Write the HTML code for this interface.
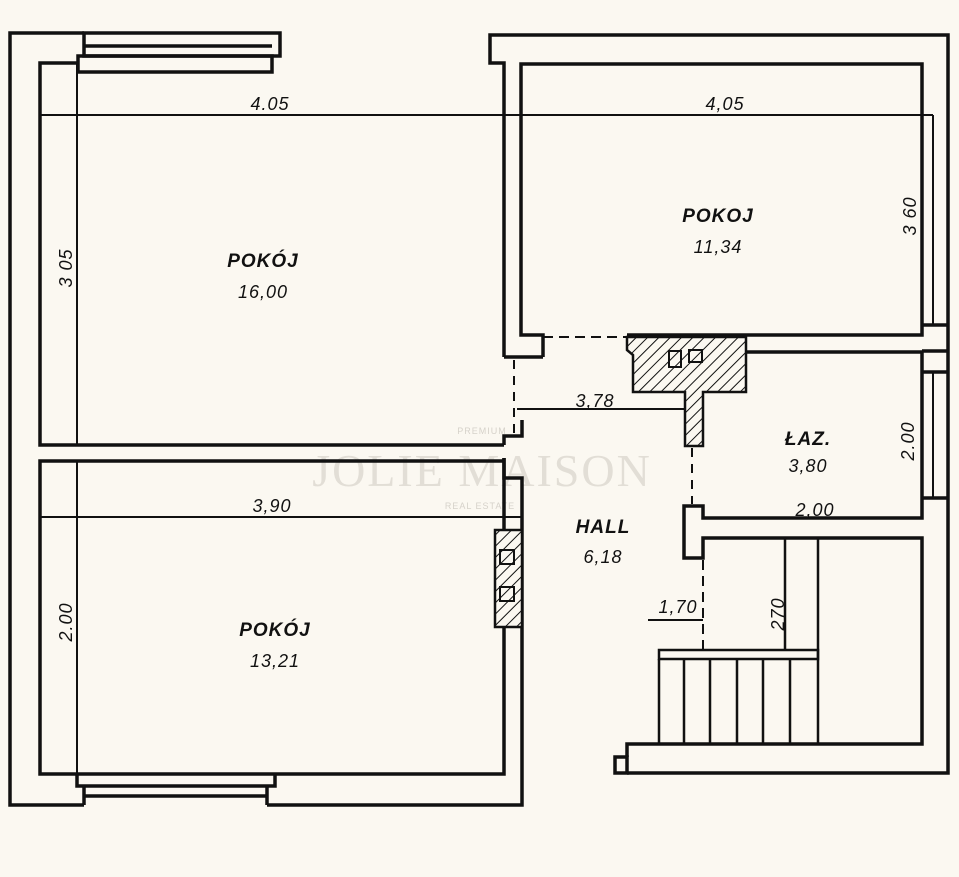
<!DOCTYPE html>
<html><head><meta charset="utf-8"><style>
html,body{margin:0;padding:0;background:#fbf8f1;}
svg{display:block}
.t{font-family:"Liberation Sans",sans-serif;font-style:italic;font-weight:bold;font-size:19px;fill:#111;text-anchor:middle;letter-spacing:1px}
.s{font-family:"Liberation Sans",sans-serif;font-style:italic;font-size:18px;fill:#111;text-anchor:middle;letter-spacing:1px}
</style></head><body>
<svg width="959" height="877" viewBox="0 0 959 877" xmlns="http://www.w3.org/2000/svg">
<defs>
<pattern id="h" width="8" height="8" patternUnits="userSpaceOnUse" patternTransform="rotate(45)">
<rect width="8" height="8" fill="#fbf8f1"/><line x1="0" y1="0" x2="0" y2="8" stroke="#111" stroke-width="2"/>
</pattern>
</defs>
<rect width="959" height="877" fill="#fbf8f1"/>
<!-- watermark -->
<text x="482" y="486" font-family="Liberation Serif,serif" font-size="46" fill="#e2ded6" text-anchor="middle" letter-spacing="2">JOLIE MAISON</text>
<text x="482" y="434" font-family="Liberation Sans,sans-serif" font-size="9" fill="#d6d2ca" text-anchor="middle" letter-spacing="1">PREMIUM</text>
<text x="480" y="509" font-family="Liberation Sans,sans-serif" font-size="9" fill="#d6d2ca" text-anchor="middle" letter-spacing="1">REAL ESTATE</text>

<g stroke="#111" stroke-width="3.5" fill="none" stroke-linejoin="miter">
<!-- left block outer -->
<polyline points="84,33 10,33 10,805 84,805"/>
<polyline points="267,805 522,805 522,478 504,478 504,458"/>
<polyline points="504,445 504,436 522,436 522,420"/>
<!-- top window -->
<rect x="84" y="33" width="196" height="23"/>
<line x1="84" y1="46" x2="272" y2="46"/>
<rect x="78" y="56" width="194" height="16"/>
<polyline points="78,63 40,63 40,445 504,445"/>
<!-- lower room -->
<polyline points="504,461 40,461 40,774 504,774 504,627"/>
<line x1="504" y1="530" x2="504" y2="458"/>
<!-- bottom window -->
<polyline points="77,774 77,786 275,786 275,774"/>
<polyline points="84,786 84,805"/>
<polyline points="267,786 267,805"/>
<line x1="84" y1="796" x2="267" y2="796"/>
<!-- right block -->
<polyline points="504,357 504,63 490,63 490,35 948,35 948,773 627,773"/>
<rect x="615" y="757" width="12" height="16"/>
<polyline points="627,757 627,744 922,744 922,538 703,538 703,558 684,558 684,506 703,506 703,518 922,518 922,352 746,352"/>
<polyline points="543,357 504,357"/>
<polyline points="543,357 543,335 521,335 521,64 922,64 922,335 627,335"/>
<line x1="922" y1="325" x2="948" y2="325"/>
<line x1="922" y1="351" x2="948" y2="351"/>
<line x1="922" y1="372" x2="948" y2="372"/>
<line x1="922" y1="498" x2="948" y2="498"/>
</g>
<g stroke="#111" stroke-width="2" fill="none">
<line x1="933" y1="372" x2="933" y2="498"/>
<!-- dimension lines -->
<line x1="40" y1="115" x2="933" y2="115"/>
<line x1="933" y1="115" x2="933" y2="325"/>
<line x1="77" y1="63" x2="77" y2="445"/>
<line x1="77" y1="461" x2="77" y2="774"/>
<line x1="40" y1="517" x2="522" y2="517"/>
<line x1="517" y1="409" x2="685" y2="409"/>
<line x1="648" y1="620" x2="703" y2="620"/>
<!-- dashed -->
<line x1="514" y1="360" x2="514" y2="434" stroke-dasharray="9,7"/>
<line x1="543" y1="337" x2="627" y2="337" stroke-dasharray="10,6"/>
<line x1="692" y1="448" x2="692" y2="504" stroke-dasharray="9,7"/>
<line x1="703" y1="560" x2="703" y2="650" stroke-dasharray="10,6"/>
</g>
<!-- stairs -->
<g stroke="#111" stroke-width="2.5" fill="none">
<rect x="659" y="650" width="159" height="9"/>
<line x1="785" y1="538" x2="785" y2="650"/>
<line x1="818" y1="538" x2="818" y2="744"/>
<line x1="659" y1="659" x2="659" y2="744"/>
<line x1="684" y1="659" x2="684" y2="744"/>
<line x1="710" y1="659" x2="710" y2="744"/>
<line x1="737" y1="659" x2="737" y2="744"/>
<line x1="763" y1="659" x2="763" y2="744"/>
<line x1="790" y1="659" x2="790" y2="744"/>
</g>
<!-- chimneys -->
<g stroke="#111" stroke-width="2.5" fill="url(#h)">
<polygon points="627,337 746,337 746,392 703,392 703,446 685,446 685,392 633,392 633,355 627,350"/>
<rect x="495" y="530" width="27" height="97"/>
</g>
<g stroke="#111" stroke-width="2" fill="none">
<rect x="669" y="351" width="12" height="16"/>
<rect x="689" y="350" width="13" height="12"/>
<rect x="500" y="550" width="14" height="14"/>
<rect x="500" y="587" width="14" height="14"/>
</g>
<!-- labels -->
<text class="s" x="270" y="110">4.05</text>
<text class="s" x="725" y="110">4,05</text>
<text class="t" x="718" y="222">POKOJ</text>
<text class="s" x="718" y="253">11,34</text>
<text class="t" x="263" y="267">POKÓJ</text>
<text class="s" x="263" y="298">16,00</text>
<text class="s" transform="translate(72,268) rotate(-90)">3 05</text>
<text class="s" transform="translate(916,216) rotate(-90)">3 60</text>
<text class="s" x="595" y="407">3,78</text>
<text class="t" x="808" y="445">ŁAZ.</text>
<text class="s" x="808" y="472">3,80</text>
<text class="s" transform="translate(914,441) rotate(-90)">2.00</text>
<text class="s" x="815" y="516">2,00</text>
<text class="s" x="272" y="512">3,90</text>
<text class="t" x="603" y="533">HALL</text>
<text class="s" x="603" y="563">6,18</text>
<text class="s" x="678" y="613">1,70</text>
<text class="s" transform="translate(784,614) rotate(-90)">270</text>
<text class="s" transform="translate(72,622) rotate(-90)">2.00</text>
<text class="t" x="275" y="636">POKÓJ</text>
<text class="s" x="275" y="667">13,21</text>
</svg>
</body></html>
